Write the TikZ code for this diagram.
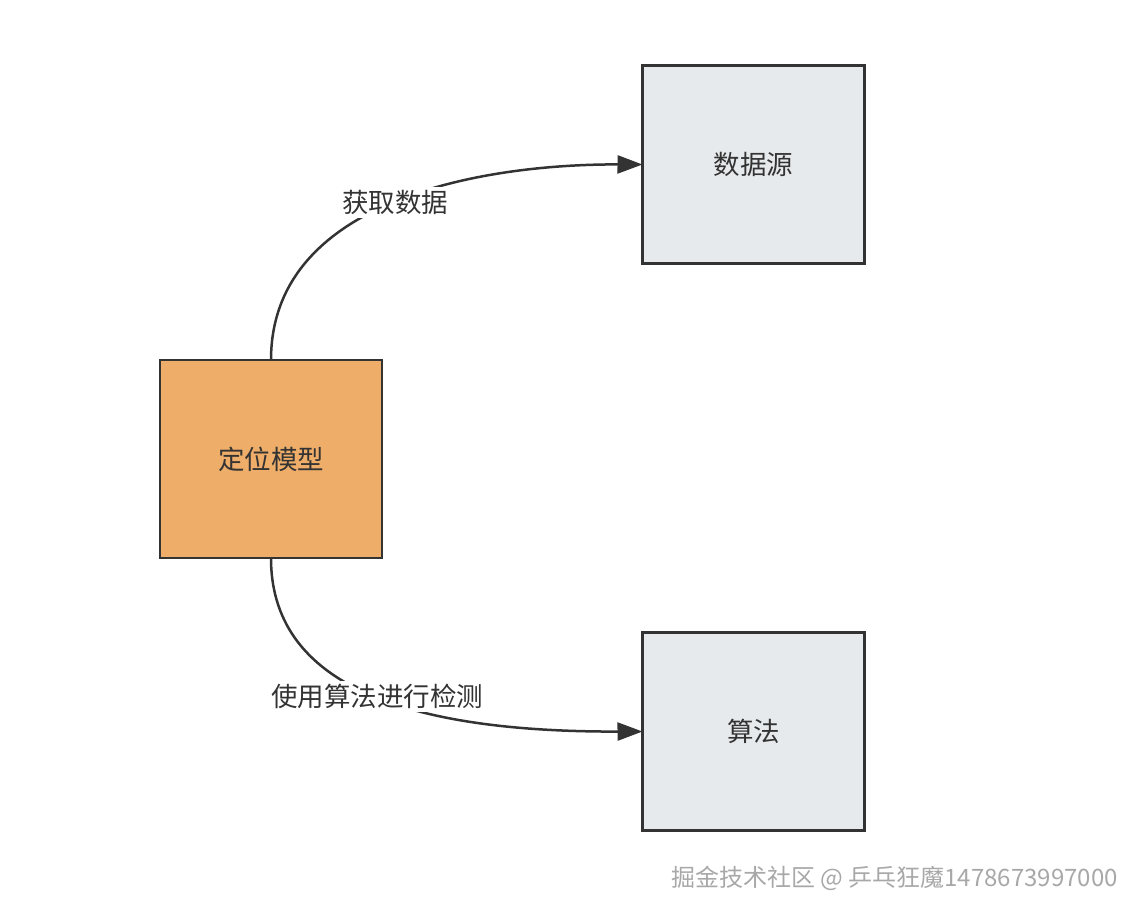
\documentclass[tikz,border=0pt]{standalone}
\usepackage{fontspec}
\setmainfont{Noto Sans CJK SC}
\usetikzlibrary{arrows.meta}
\definecolor{edgecol}{HTML}{333333}
\definecolor{orangefill}{HTML}{EEAD68}
\definecolor{grayfill}{HTML}{E6EAEC}
\definecolor{markcol}{HTML}{A8A8A8}
\begin{document}
\begin{tikzpicture}[x=1pt,y=-1pt,
  box/.style={draw=edgecol, line width=2.5pt, minimum width=222pt, minimum height=198pt,
    outer sep=0pt, inner sep=0pt, font=\fontsize{26.5}{31}\selectfont, text=edgecol},
  conn/.style={draw=edgecol, line width=2.5pt, -{Triangle[length=25pt,width=18pt]}},
  lbl/.style={fill=white, inner sep=3pt, font=\fontsize{26.5}{31}\selectfont, text=edgecol},
  wmark/.style={font=\fontsize{24}{29}\selectfont, text=markcol, anchor=west, inner sep=0pt}]
\useasboundingbox (0,0) rectangle (1144,916);
\node[box, fill=orangefill] (model) at (271,459) {定位模型};
\node[box, fill=grayfill] (src) at (753.5,164.5) {数据源};
\node[box, fill=grayfill] (algo) at (753.5,731.5) {算法};
\draw[conn] (model.north) .. controls (271,201) and (479,164) .. (src.west)
  node[lbl, pos=0.5] (l1) {获取数据};
\draw[conn] (model.south) .. controls (271,696) and (431,732) .. (algo.west)
  node[lbl, pos=0.5] (l2) {使用算法进行检测};
\node[wmark] (wm) at (671,878) {掘金技术社区 @ 乒乓狂魔1478673997000};
\end{tikzpicture}
\end{document}
